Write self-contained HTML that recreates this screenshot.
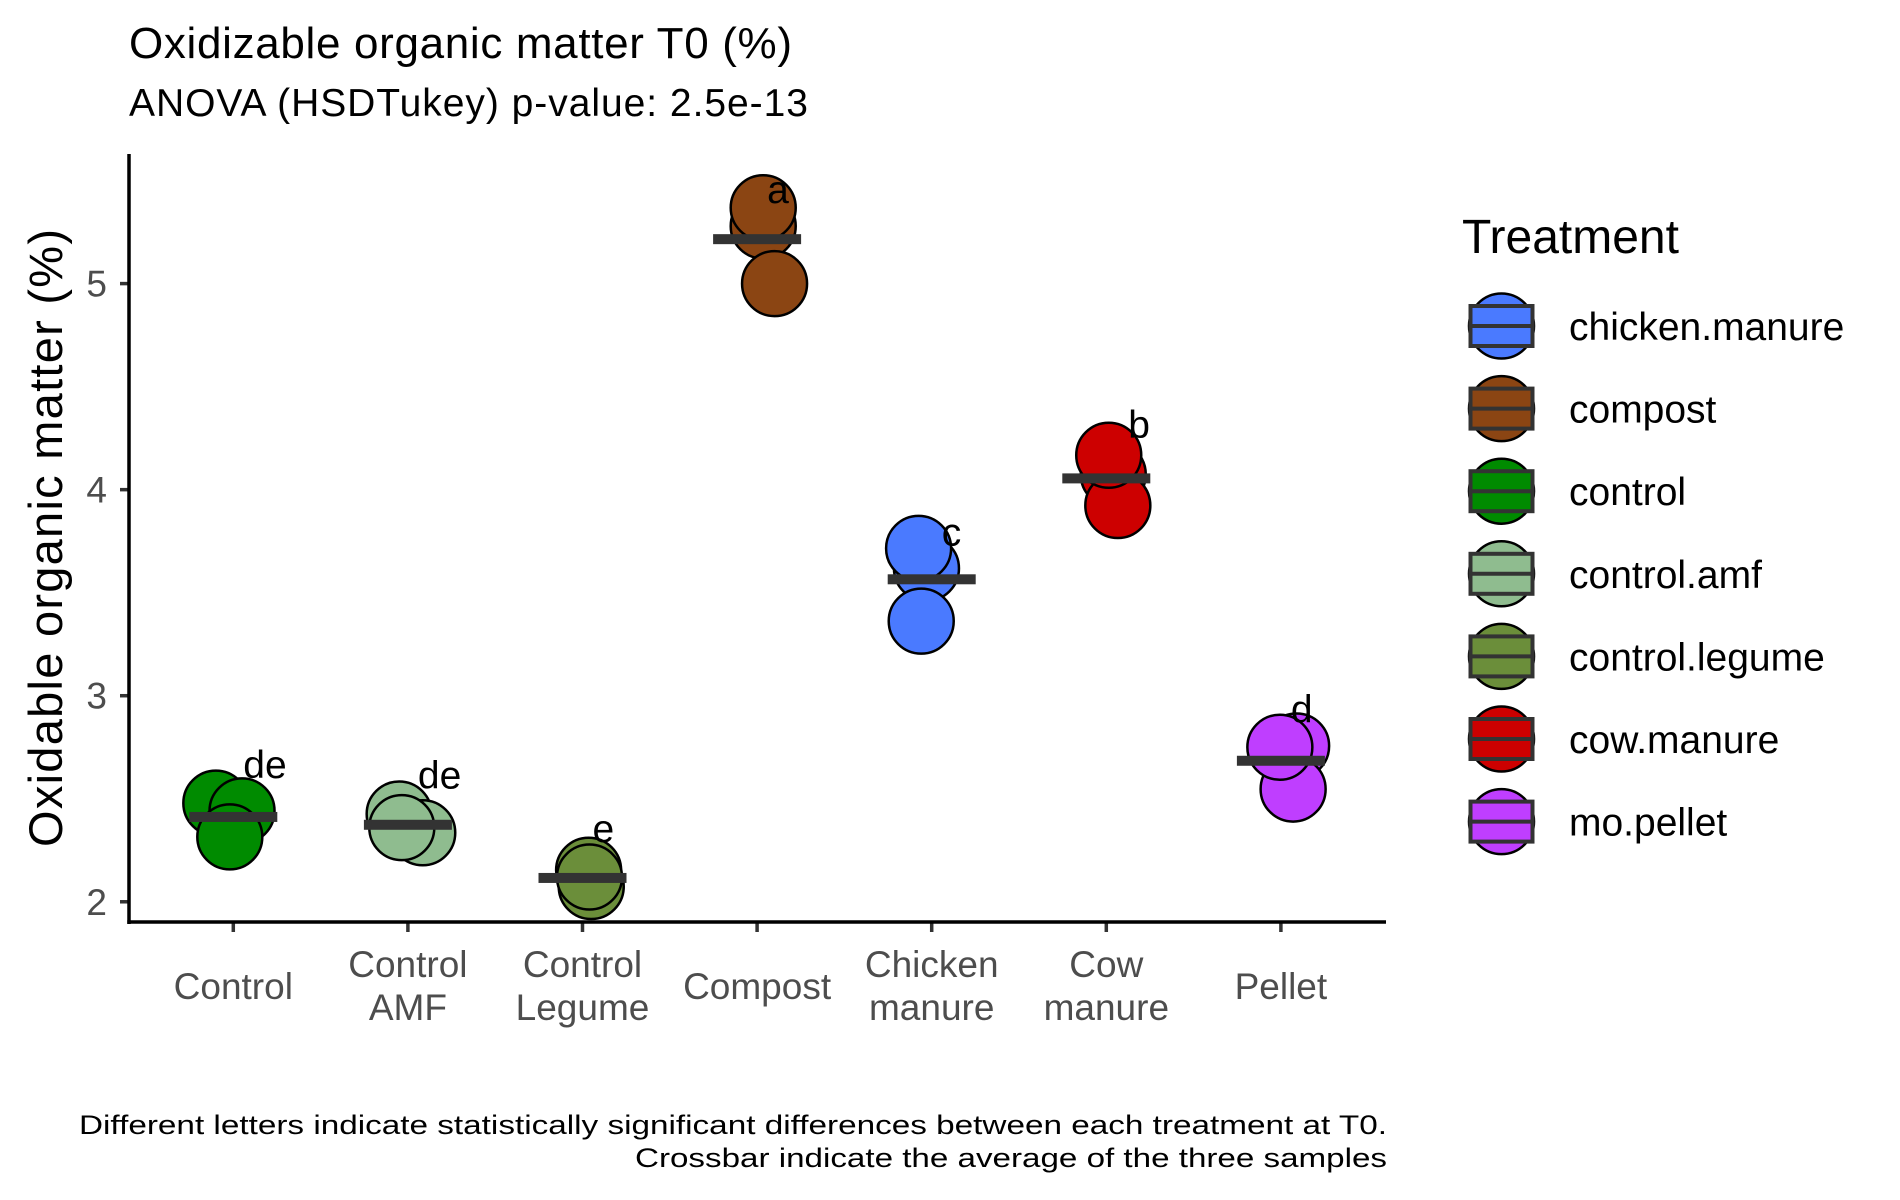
<!DOCTYPE html>
<html><head><meta charset="utf-8"><style>
html,body{margin:0;padding:0;background:#fff;}
svg{display:block;font-family:"Liberation Sans",Arial,sans-serif;}
</style></head><body>
<svg id="chart" width="1900" height="1200" viewBox="0 0 1900 1200">
<text x="129" y="58" font-size="44" fill="#000" textLength="663">Oxidizable organic matter T0 (%)</text>
<text x="129" y="116" font-size="39" fill="#000" textLength="679">ANOVA (HSDTukey) p-value: 2.5e-13</text>
<text transform="translate(62,538) rotate(-90)" text-anchor="middle" font-size="47" fill="#000" textLength="618">Oxidable organic matter (%)</text>
<g id="plot"></g>
<g id="legend"></g>
<text x="1387" y="1134" text-anchor="end" font-size="27" fill="#000" textLength="1308" lengthAdjust="spacingAndGlyphs">Different letters indicate statistically significant differences between each treatment at T0.</text>
<text x="1387" y="1167" text-anchor="end" font-size="27" fill="#000" textLength="752" lengthAdjust="spacingAndGlyphs">Crossbar indicate the average of the three samples</text>
</svg>
<script>
const categories = ["Control", "Control\nAMF", "Control\nLegume", "Compost", "Chicken\nmanure", "Cow\nmanure", "Pellet"];
const groupKeys = ["control", "control.amf", "control.legume", "compost", "chicken.manure", "cow.manure", "mo.pellet"];
const sample1 = [2.479, 2.426, 2.153, 5.279, 3.618, 4.074, 2.756];
const sample2 = [2.441, 2.335, 2.074, 5.000, 3.715, 3.923, 2.547];
const sample3 = [2.315, 2.360, 2.120, 5.368, 3.362, 4.167, 2.750];
const jitter1 = [-0.10, -0.05, 0.035, 0.035, -0.03, 0.04, 0.09];
const jitter2 = [0.05, 0.085, 0.05, 0.10, -0.075, 0.066, 0.07];
const jitter3 = [-0.02, -0.035, 0.04, 0.035, -0.06, 0.014, -0.006];
const letters = ["de", "de", "e", "a", "c", "b", "d"];
const letterY = [2.60, 2.55, 2.29, 5.39, 3.73, 4.25, 2.87];
const yTicks = [2, 3, 4, 5];
const legendKeys = ["chicken.manure", "compost", "control", "control.amf", "control.legume", "cow.manure", "mo.pellet"];
const colors = {"chicken.manure":"#4a7aff","compost":"#8b4513","control":"#008b00","control.amf":"#8fbc8f","control.legume":"#6b8e3a","cow.manure":"#cd0000","mo.pellet":"#bf3eff"};

const NS = "http://www.w3.org/2000/svg";
const x0 = 233.3, step = 174.6;
const xScale = i => x0 + i * step;
const yScale = v => 283.6 - (v - 5) * 206.06;
function mk(tag, attrs, parent){const e=document.createElementNS(NS,tag);for(const k in attrs)e.setAttribute(k,attrs[k]);parent.appendChild(e);return e;}
const plot = document.getElementById("plot");
const R = 32.5;

categories.forEach((c,i)=>{
  const col = colors[groupKeys[i]];
  const vals=[sample1[i],sample2[i],sample3[i]], jit=[jitter1[i],jitter2[i],jitter3[i]];
  vals.forEach((v,k)=>{
    const p = mk("circle",{cx:xScale(i+jit[k]),cy:yScale(v),r:R,fill:col,stroke:"#000","stroke-width":2.5},plot);
    
    
  });
  const mean=(vals[0]+vals[1]+vals[2])/3;
  const b = mk("rect",{x:xScale(i)-44,y:yScale(mean)-5,width:88,height:10,fill:"#333333"},plot);
  
  
  const l = mk("text",{x:xScale(i)+(i===5?22:10),y:yScale(letterY[i]),"font-size":39,fill:"#000"},plot);
  l.textContent=letters[i];
  
  
  const t = mk("line",{x1:xScale(i),x2:xScale(i),y1:922,y2:932,stroke:"#333","stroke-width":3.5},plot);
  
  
  const lines=c.split("\n");
  const tl = mk("text",{x:xScale(i),"text-anchor":"middle","font-size":37,fill:"#4d4d4d"},plot);
  
  
  lines.forEach((s,k)=>{
    const ts=mk("tspan",{x:xScale(i),y: lines.length===1?999:(977+k*43)},tl);
    ts.textContent=s;
  });
});
yTicks.forEach(v=>{
  const t=mk("line",{x1:120,x2:129,y1:yScale(v),y2:yScale(v),stroke:"#333","stroke-width":3.5},plot);
  
  
  const tl=mk("text",{x:107,y:yScale(v)+13,"text-anchor":"end","font-size":37,fill:"#4d4d4d"},plot);
  tl.textContent=v;
  
  
});
const ya=mk("line",{x1:129,x2:129,y1:154,y2:924,stroke:"#000","stroke-width":3.5},plot);


const xa=mk("line",{x1:127.3,x2:1386,y1:922,y2:922,stroke:"#000","stroke-width":3.5},plot);



const lg=document.getElementById("legend");
const lt=mk("text",{x:1462,y:253,"font-size":48,fill:"#000"},lg);
lt.textContent="Treatment";


legendKeys.forEach((k,i)=>{
  const cy=326+i*82.6, cx=1501.5;
  const g=mk("g",{},lg);
  
  
  mk("circle",{cx:cx,cy:cy,r:32.5,fill:colors[k],stroke:"#000","stroke-width":2.5},g);
  mk("rect",{x:cx-31,y:cy-20,width:62,height:40,fill:colors[k],stroke:"#333","stroke-width":4},g);
  mk("line",{x1:cx-31,x2:cx+31,y1:cy,y2:cy,stroke:"#333","stroke-width":4},g);
  const t=mk("text",{x:1569,y:cy+14,"font-size":39,fill:"#000"},g);
  t.textContent=k;
});
</script>
</body></html>
